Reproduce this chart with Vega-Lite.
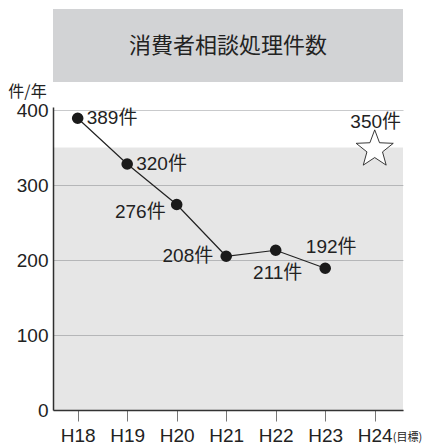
{
  "$schema": "https://vega.github.io/schema/vega-lite/v6.json",
  "autosize": {"type": "pad"},
  "padding": {"left": 7, "top": 9, "right": 0, "bottom": 0},
  "background": "white",
  "datasets": {
    "series": [
      {"year": "H18", "value": 389, "label": "389件"},
      {"year": "H19", "value": 328, "label": "320件"},
      {"year": "H20", "value": 274, "label": "276件"},
      {"year": "H21", "value": 205, "label": "208件"},
      {"year": "H22", "value": 213, "label": "211件"},
      {"year": "H23", "value": 189, "label": "192件"}
    ],
    "target": [{"year": "H24", "value": 350, "label": "350件", "note": "(目標)"}],
    "heading": [{"text": "消費者相談処理件数"}]
  },
  "config": {"view": {"stroke": null}, "font": "Liberation Sans, Noto Sans CJK JP"},
  "spacing": 25,
  "bounds": "flush",
  "vconcat": [
    {
      "width": 350,
      "height": 73,
      "view": {"fill": "#d2d3d5", "stroke": null},
      "data": {"name": "heading"},
      "mark": {"type": "text", "fontSize": 22, "font": "Noto Sans CJK JP", "color": "#222222", "baseline": "middle", "align": "center"},
      "encoding": {"text": {"field": "text"}}
    },
    {
      "width": 350,
      "height": 303,
      "encoding": {
        "y": {
          "field": "value",
          "type": "quantitative",
          "scale": {"domain": [0, 404], "nice": false, "zero": true},
          "axis": {
            "values": [0, 100, 200, 300, 400],
            "title": "件/年",
            "titleAngle": 0,
            "titleAlign": "center",
            "titleBaseline": "middle",
            "titleX": -26,
            "titleY": -16,
            "titleFont": "Noto Sans CJK JP",
            "titleFontSize": 16,
            "titleFontWeight": "normal",
            "titleColor": "#222222",
            "grid": true,
            "gridColor": "#c9cacc",
            "ticks": false,
            "tickSize": 0,
            "domain": true,
            "domainColor": "#333333",
            "domainWidth": 1.5,
            "labelFont": "Liberation Sans",
            "labelFontSize": 19,
            "labelColor": "#222222",
            "labelPadding": 5
          }
        }
      },
      "layer": [
        {
          "data": {"name": "target"},
          "mark": {"type": "rect", "fill": "#000000", "opacity": 0.098},
          "encoding": {"y2": {"datum": 0}}
        },
        {
          "data": {"name": "series"},
          "mark": {"type": "line", "color": "#222222", "strokeWidth": 1.2},
          "encoding": {
            "x": {
              "field": "year", "type": "ordinal",
              "scale": {"type": "point", "domain": ["H18", "H19", "H20", "H21", "H22", "H23", "H24"], "padding": 0.535, "align": 0.466},
              "axis": {"title": null, "labelAngle": 0, "labelFont": "Liberation Sans", "labelFontSize": 19, "labelColor": "#222222", "labelPadding": 5, "ticks": true, "tickSize": 11, "tickColor": "#777777", "tickWidth": 1, "domainColor": "#333333", "domainWidth": 1.5, "grid": false}
            }
          }
        },
        {
          "data": {"name": "series"},
          "mark": {"type": "circle", "size": 135, "color": "#1a1a1a", "opacity": 1},
          "encoding": {"x": {"field": "year", "type": "ordinal"}}
        },
        {
          "data": {"name": "series"},
          "transform": [{"filter": {"field": "year", "oneOf": ["H18", "H19"]}}],
          "mark": {"type": "text", "align": "left", "baseline": "middle", "dx": 9, "fontSize": 19, "color": "#222222"},
          "encoding": {"x": {"field": "year", "type": "ordinal"}, "text": {"field": "label"}}
        },
        {
          "data": {"name": "series"},
          "transform": [{"filter": {"field": "year", "equal": "H20"}}],
          "mark": {"type": "text", "align": "right", "baseline": "middle", "dx": -11, "dy": 7, "fontSize": 19, "color": "#222222"},
          "encoding": {"x": {"field": "year", "type": "ordinal"}, "text": {"field": "label"}}
        },
        {
          "data": {"name": "series"},
          "transform": [{"filter": {"field": "year", "equal": "H21"}}],
          "mark": {"type": "text", "align": "right", "baseline": "middle", "dx": -13, "dy": 0, "fontSize": 19, "color": "#222222"},
          "encoding": {"x": {"field": "year", "type": "ordinal"}, "text": {"field": "label"}}
        },
        {
          "data": {"name": "series"},
          "transform": [{"filter": {"field": "year", "equal": "H22"}}],
          "mark": {"type": "text", "align": "center", "baseline": "middle", "dx": 2, "dy": 23, "fontSize": 19, "color": "#222222"},
          "encoding": {"x": {"field": "year", "type": "ordinal"}, "text": {"field": "label"}}
        },
        {
          "data": {"name": "series"},
          "transform": [{"filter": {"field": "year", "equal": "H23"}}],
          "mark": {"type": "text", "align": "center", "baseline": "middle", "dx": 6, "dy": -21, "fontSize": 19, "color": "#222222"},
          "encoding": {"x": {"field": "year", "type": "ordinal"}, "text": {"field": "label"}}
        },
        {
          "data": {"name": "target"},
          "mark": {"type": "point", "shape": "M0,-0.905L0.2469,-0.2443L0.9511,-0.2135L0.3995,0.2253L0.5878,0.9045L0,0.5155L-0.5878,0.9045L-0.3995,0.2253L-0.9511,-0.2135L-0.2469,-0.2443Z", "size": 1521, "filled": true, "fill": "white", "stroke": "#222222", "strokeWidth": 0.9, "opacity": 1},
          "encoding": {"x": {"field": "year", "type": "ordinal"}}
        },
        {
          "data": {"name": "target"},
          "mark": {"type": "text", "align": "center", "baseline": "middle", "dx": 1, "dy": -26, "fontSize": 19, "color": "#222222"},
          "encoding": {"x": {"field": "year", "type": "ordinal"}, "text": {"field": "label"}}
        },
        {
          "data": {"name": "target"},
          "mark": {"type": "text", "align": "left", "baseline": "middle", "dx": 18, "dy": 28, "fontSize": 11, "font": "Noto Sans CJK JP", "color": "#222222"},
          "encoding": {"x": {"field": "year", "type": "ordinal"}, "y": {"datum": 0}, "text": {"field": "note"}}
        }
      ]
    }
  ]
}
